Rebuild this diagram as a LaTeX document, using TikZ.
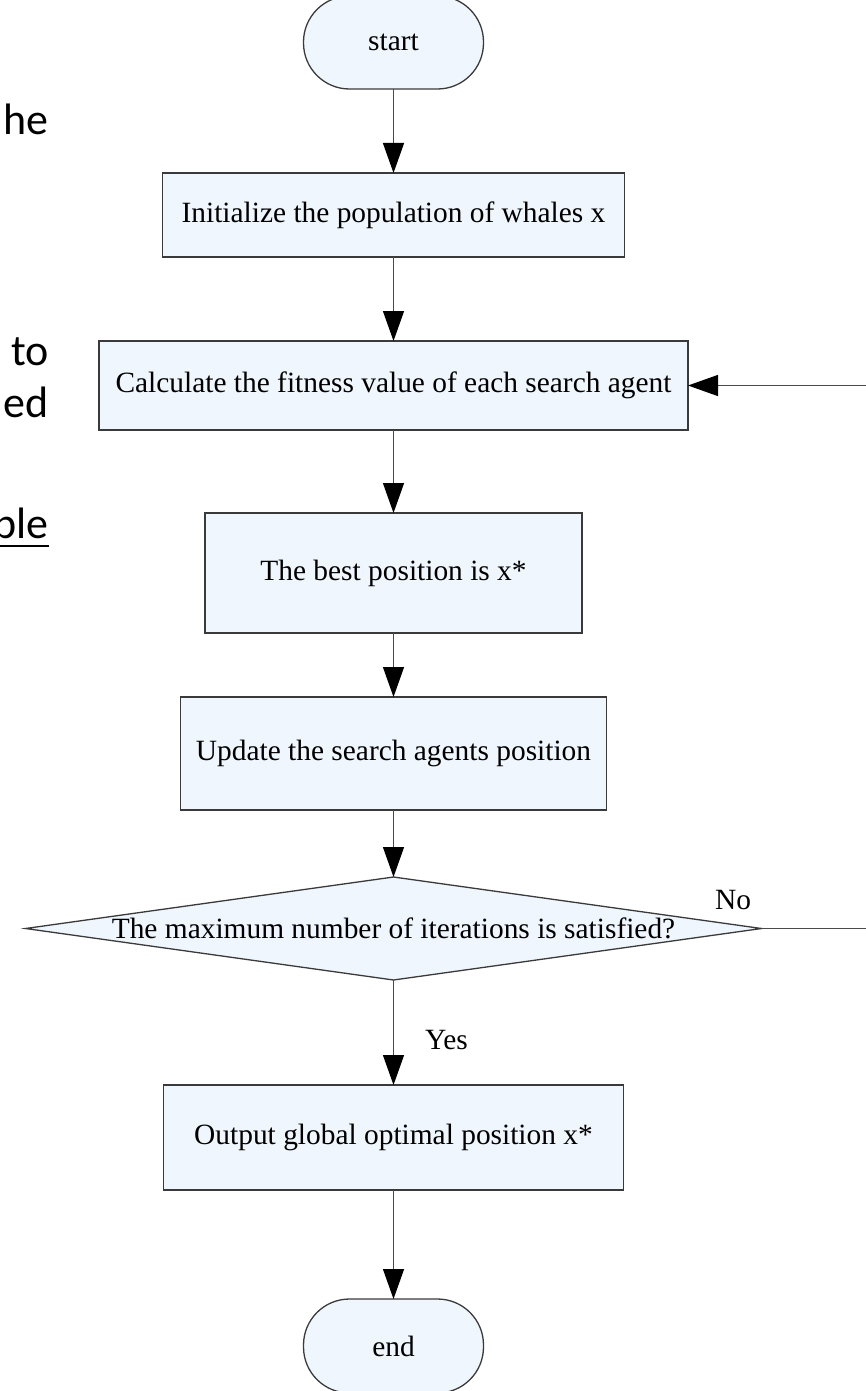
\documentclass[tikz,border=0pt]{standalone}
\usepackage{fontspec}
\setmainfont{Liberation Serif}
\newfontfamily\sidefam{Carlito}
\usetikzlibrary{arrows.meta}
\definecolor{boxfill}{HTML}{EFF6FE}
\definecolor{boxline}{HTML}{3A3A3A}
\definecolor{linecol}{HTML}{4A4A4A}
\newcommand{\boxfont}{\fontsize{29.4}{34}\selectfont}
\newcommand{\sidefont}{\sidefam\fontsize{44}{53}\selectfont}
\tikzset{
  box/.style={draw=boxline, fill=boxfill, line width=1.3pt, font=\boxfont, inner sep=0pt, outer sep=0pt},
  term/.style={box, rounded corners=46pt},
  conn/.style={draw=linecol, line width=1.3pt, -{Triangle[length=30pt,width=21pt,color=black]}},
  lbl/.style={font=\boxfont, inner sep=0pt},
  side/.style={font=\sidefont, inner sep=0pt, anchor=base east},
}
\begin{document}
\begin{tikzpicture}[x=1pt, y=-1pt]
\useasboundingbox (0,0) rectangle (866,1391);
\begin{scope}
\clip (0,0) rectangle (866,1391);
% left slide fragments
\node[side] (t1) at (49,135) {he};
\node[side] (t2) at (49,365) {to};
\node[side] (t3) at (49,417) {ed};
\node[side] (t4) at (49,538) {ple};
\draw[line width=2.2pt] (t4.base east) ++(0,8) coordinate (u2) -- (0,546);
% flowchart nodes
\node[term, minimum width=180pt, minimum height=93pt] (start) at (393.5,42.5) {start};
\node[box, minimum width=462pt, minimum height=84pt] (init) at (393.5,215) {Initialize the population of whales x};
\node[box, minimum width=589pt, minimum height=89pt] (calc) at (393.5,385.5) {Calculate the fitness value of each search agent};
\node[box, minimum width=377pt, minimum height=120pt] (best) at (393.5,573) {The best position is x*};
\node[box, minimum width=426pt, minimum height=113pt] (upd) at (393.5,753.5) {Update the search agents position};
\node[inner sep=0pt, outer sep=0pt, minimum width=736pt, minimum height=103pt] (dec) at (393.5,928.5) {};
\draw[draw=boxline, fill=boxfill, line width=1.3pt] (dec.north) -- (dec.east) -- (dec.south) -- (dec.west) -- cycle;
\node[lbl] (dectext) at (dec.center) {The maximum number of iterations is satisfied?};
\node[box, minimum width=460pt, minimum height=105pt] (out) at (393.5,1137.5) {Output global optimal position x*};
\node[term, minimum width=180pt, minimum height=94pt] (end) at (393.5,1346) {end};
% connectors
\draw[conn] (start.south) -- (init.north);
\draw[conn] (init.south) -- (calc.north);
\draw[conn] (calc.south) -- (best.north);
\draw[conn] (best.south) -- (upd.north);
\draw[conn] (upd.south) -- (dec.north);
\draw[conn] (dec.south) -- (out.north);
\draw[conn] (out.south) -- (end.north);
\coordinate (loopR) at (930,0);
\draw[conn] (dec.east) -- (dec.east -| loopR) -- (calc.east -| loopR) -- (calc.east);
% labels
\node[lbl] (no) at (733,900) {No};
\node[lbl] (yes) at (446.5,1040) {Yes};
\end{scope}
\end{tikzpicture}
\end{document}
